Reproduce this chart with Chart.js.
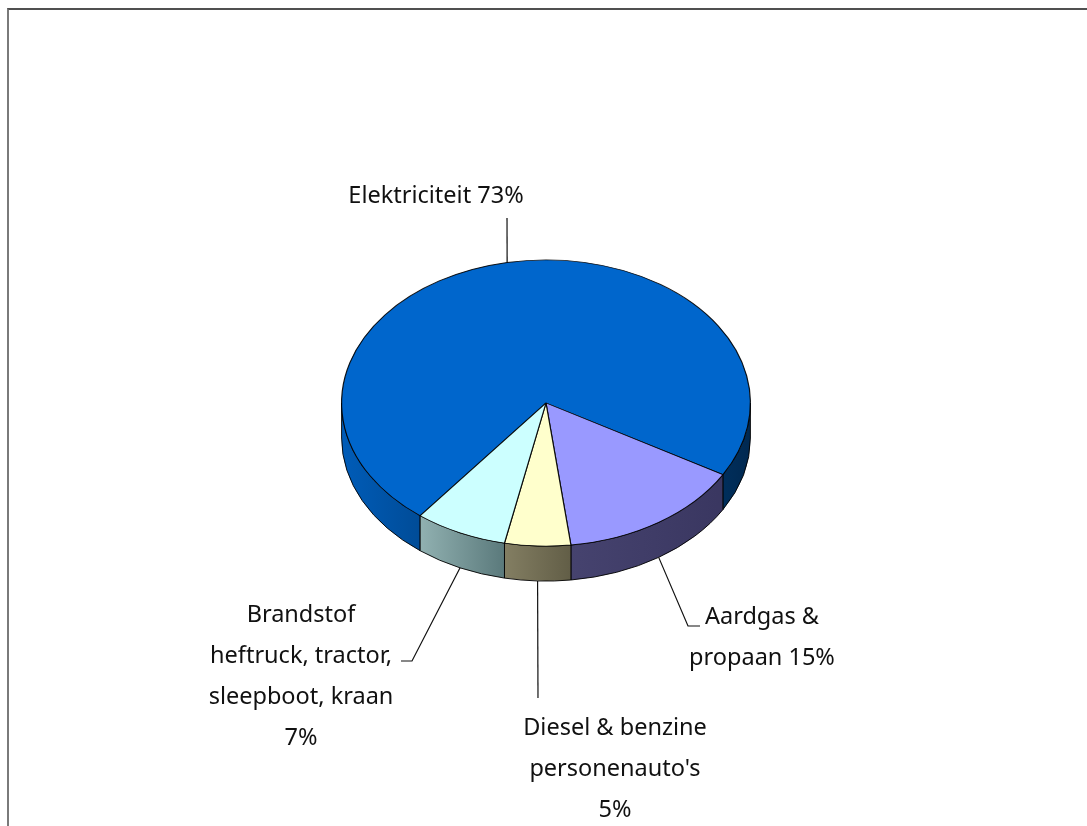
<!DOCTYPE html>
<html>
<head>
<meta charset="utf-8">
<script src="https://cdn.jsdelivr.net/npm/chart.js@4.4.1/dist/chart.umd.min.js"></script>
<style>
  html, body { margin: 0; padding: 0; background: #fff; }
  #wrap { position: relative; width: 1087px; height: 826px; overflow: hidden; }
  #kader { position: absolute; left: 7px; top: 8px; right: -4px; bottom: -4px;
           border-top: 2px solid #505050; border-left: 2px solid #7a7a7a; }
  canvas { position: absolute; left: 0; top: 0; }
</style>
</head>
<body>
<div id="wrap">
  <div id="kader"></div>
  <canvas id="grafiek" width="1087" height="826"></canvas>
</div>
<script>
// ---------------- Gegevens ----------------
const categorieen = ["Elektriciteit", "Aardgas & propaan", "Diesel & benzine personenauto's", "Brandstof heftruck, tractor, sleepboot, kraan"];
const aandeel = [72.8, 14.7, 5.2, 7.3];
const labelRegels = [
    ["Elektriciteit"],
    ["Aardgas &", "propaan"],
    ["Diesel & benzine", "personenauto's"],
    ["Brandstof", "heftruck, tractor,", "sleepboot, kraan"]
];

// ---------------- Opmaak ----------------
const kleuren = ["#0066CC", "#9999FF", "#FFFFCC", "#CCFFFF"];
// kleurverloop van de zijkant over de breedte van de taart (0 = links, 1 = rechts)
const zijVerloop = [
    [[0, "#005cb8"], [0.19, "#004c98"], [0.9, "#003262"], [1, "#002850"]],
    [[0.55, "#46436f"], [0.95, "#393660"]],
    [[0.39, "#858064"], [0.57, "#605c45"]],
    [[0.18, "#94b4b4"], [0.4, "#5a797b"]]
];
const KANTEL = 0.70;   // verhouding hoogte/breedte van de ellips
const DIEPTE = 35;     // dikte van de taart in px
const LETTER = '23.5px "Noto Sans", sans-serif';
const REGEL = 41;
// labelpositie: midden x, y van eerste regel, procent op nieuwe regel, knikpunt en eindpunt van de lijn
const labelPlek = [
    { x: 436, y: 196, nieuweRegel: false, knik: null, eind: [507, 218] },
    { x: 762, y: 617, nieuweRegel: false, knik: [688, 626], eind: [700, 626] },
    { x: 615, y: 728, nieuweRegel: true, knik: null, eind: [538, 698] },
    { x: 301, y: 615, nieuweRegel: true, knik: [412, 661], eind: [401, 661] }
];

// -------- Plugin: 3D-taart tekenen op basis van de bogen van Chart.js --------
const taart3d = {
    id: "taart3d",
    beforeDatasetsDraw(chart) {
        const ctx = chart.ctx;
        const bogen = chart.getDatasetMeta(0).data;
        const cx = bogen[0].x, cy = bogen[0].y, r = bogen[0].outerRadius;
        const ry = r * KANTEL;

        // zijkanten (alleen de voorkant, hoek 0..PI)
        bogen.forEach((boog, i) => {
            const a1 = boog.startAngle, a2 = boog.endAngle;
            const grad = ctx.createLinearGradient(cx - r, 0, cx + r, 0);
            zijVerloop[i].forEach(([t, c]) => grad.addColorStop(t, c));
            for (let k = -1; k <= 2; k++) {
                const s = Math.max(a1, 2 * Math.PI * k);
                const e = Math.min(a2, 2 * Math.PI * k + Math.PI);
                if (e <= s) continue;
                ctx.save();
                ctx.beginPath();
                ctx.ellipse(cx, cy, r, ry, 0, s, e, false);
                ctx.lineTo(cx + r * Math.cos(e), cy + ry * Math.sin(e) + DIEPTE);
                ctx.ellipse(cx, cy + DIEPTE, r, ry, 0, e, s, true);
                ctx.closePath();
                ctx.fillStyle = grad;
                ctx.fill();
                ctx.strokeStyle = "rgba(0,0,0,0.9)";
                ctx.lineWidth = 1;
                ctx.stroke();
                ctx.restore();
            }
        });

        // bovenkant: bogen van Chart.js in een platgedrukte context
        ctx.save();
        ctx.translate(cx, cy);
        ctx.scale(1, KANTEL);
        ctx.translate(-cx, -cy);
        bogen.forEach(b => b.draw(ctx));
        ctx.restore();
        return false;
    },
    afterDraw(chart) {
        const ctx = chart.ctx;
        const bogen = chart.getDatasetMeta(0).data;
        const cx = bogen[0].x, cy = bogen[0].y, r = bogen[0].outerRadius;
        const ry = r * KANTEL;
        const totaal = aandeel.reduce((a, b) => a + b, 0);

        ctx.save();
        ctx.font = LETTER;
        ctx.fillStyle = "#111";
        ctx.textAlign = "center";
        ctx.textBaseline = "middle";
        ctx.strokeStyle = "#111";
        ctx.lineWidth = 1.2;

        bogen.forEach((boog, i) => {
            const plek = labelPlek[i];
            const m = (boog.startAngle + boog.endAngle) / 2;
            const px = cx + r * Math.cos(m);
            const py = cy + ry * Math.sin(m) + (Math.sin(m) > 0 ? DIEPTE : 0);

            // aanwijslijn
            ctx.beginPath();
            ctx.moveTo(px, py);
            if (plek.knik) ctx.lineTo(plek.knik[0], plek.knik[1]);
            ctx.lineTo(plek.eind[0], plek.eind[1]);
            ctx.stroke();

            // tekst
            const pct = Math.round(aandeel[i] / totaal * 100) + "%";
            const regels = labelRegels[i].slice();
            if (plek.nieuweRegel) regels.push(pct);
            else regels[regels.length - 1] += " " + pct;
            regels.forEach((t, j) => ctx.fillText(t, plek.x, plek.y + j * REGEL));
        });
        ctx.restore();
    }
};

new Chart(document.getElementById("grafiek"), {
    type: "pie",
    data: {
        labels: categorieen,
        datasets: [{
            data: aandeel,
            backgroundColor: kleuren,
            borderColor: "rgba(0,0,0,0.9)",
            borderWidth: 1.2
        }]
    },
    options: {
        responsive: false,
        animation: false,
        events: [],
        rotation: 218,
        layout: { padding: { left: 341, right: 336, top: 198, bottom: 218 } },
        plugins: {
            legend: { display: false },
            tooltip: { enabled: false }
        }
    },
    plugins: [taart3d]
});
</script>
</body>
</html>
